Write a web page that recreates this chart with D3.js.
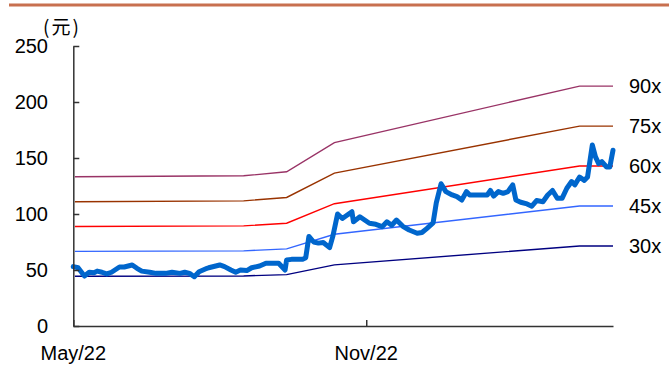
<!DOCTYPE html>
<html>
<head>
<meta charset="utf-8">
<script src="https://cdn.jsdelivr.net/npm/d3@7"></script>
<style>
  body { margin: 0; background: #fff; }
  text { font-family: "Liberation Sans", Arial, sans-serif; fill: #000; }
</style>
</head>
<body>
<script>
let w = 669;
let h = 365;

// price series (date, close)
let priceDates = ["2022-05-01","2022-05-04","2022-05-08","2022-05-11","2022-05-14","2022-05-16","2022-05-19","2022-05-22","2022-05-25","2022-05-30",
  "2022-06-02","2022-06-07","2022-06-10","2022-06-13","2022-06-18","2022-06-22","2022-06-28","2022-07-02","2022-07-07","2022-07-10",
  "2022-07-13","2022-07-16","2022-07-19","2022-07-24","2022-07-25","2022-08-01","2022-08-04","2022-08-08","2022-08-11","2022-08-14",
  "2022-08-18","2022-08-21","2022-08-26","2022-08-30","2022-09-03","2022-09-07","2022-09-11","2022-09-12","2022-09-15","2022-09-22",
  "2022-09-24","2022-09-26","2022-09-29","2022-10-02","2022-10-05","2022-10-09","2022-10-11","2022-10-14","2022-10-17","2022-10-23",
  "2022-10-24","2022-10-28","2022-10-31","2022-11-03","2022-11-07","2022-11-11","2022-11-14","2022-11-17","2022-11-20","2022-11-24",
  "2022-11-28","2022-12-03","2022-12-06","2022-12-09","2022-12-13","2022-12-15","2022-12-18","2022-12-21","2022-12-25","2022-12-28",
  "2022-12-31","2023-01-03","2023-01-05","2023-01-10","2023-01-16","2023-01-18","2023-01-20","2023-01-23","2023-01-26","2023-01-29",
  "2023-02-01","2023-02-03","2023-02-06","2023-02-10","2023-02-13","2023-02-16","2023-02-20","2023-02-23","2023-02-26","2023-03-01",
  "2023-03-04","2023-03-07","2023-03-10","2023-03-12","2023-03-15","2023-03-18","2023-03-20","2023-03-23","2023-03-25","2023-03-27",
  "2023-03-29","2023-04-01","2023-04-03","2023-04-05"];
let priceValues = [53,52,44.6,48,47.5,49,48,46.5,48,52.7,
  52.7,54.5,51.5,49,48,47,47,48,47,48,
  47,44,48.5,51.5,52,54.5,53,50,48,50,
  49.5,52,53.6,56,56,56,50,59,59.5,59.5,
  61,80,75,74,74.5,70,80,100,96,102,
  93,97.5,94.6,91.7,90.8,88.7,93,90,94.6,89,
  85.7,82.8,83.5,87,92,110,127,120,117,115.5,
  112.5,120,117,117,117,121,116,120,118.5,120,
  126,112.5,110.5,109,107,112,111,117,121,114,
  114,123,129,126,133,130,133,161.6,151,145,
  146.7,142,142,157];

// EPS used for the PE bands
let epsDates = ["2022-05-02","2022-08-16","2022-09-12","2022-10-12","2023-03-15","2023-04-05"];
let epsValues = [1.48, 1.49, 1.53, 1.82, 2.38, 2.38];

let peMultiples = [30, 45, 60, 75, 90];
let peLabels = ["30x", "45x", "60x", "75x", "90x"];
let peColors = ["#000080", "#3366FF", "#FF0000", "#993300", "#993366"];

let yTicks = [0, 50, 100, 150, 200, 250];
let xTickDates = ["2022-05-01", "2022-11-01"];
let xTickLabels = ["May/22", "Nov/22"];

let parse = d3.timeParse("%Y-%m-%d");

let x = d3.scaleTime()
  .domain([parse("2022-05-01"), parse("2023-04-05")])
  .range([73.3, 613]);
let y = d3.scaleLinear().domain([0, 250]).range([326, 46]);

let svg = d3.select("body").append("svg").attr("width", w).attr("height", h);

// top rule
svg.append("line")
  .attr("x1", 9).attr("x2", w).attr("y1", 5).attr("y2", 5)
  .attr("stroke", "#C8704F").attr("stroke-width", 3);

// unit label
svg.append("text")
  .attr("x", 62).attr("y", 34)
  .attr("text-anchor", "middle")
  .style("font-family", "'Noto Sans CJK SC', sans-serif")
  .style("font-size", "19px")
  .style("letter-spacing", "2px")
  .text("(元)");

// PE band lines
let line = d3.line().x((d) => x(d.date)).y((d) => y(d.value));
peMultiples.forEach((m, i) => {
  let pts = epsDates.map((d, j) => ({ date: parse(d), value: epsValues[j] * m }));
  svg.append("path")
    .attr("d", line(pts))
    .attr("fill", "none")
    .attr("stroke", peColors[i])
    .attr("stroke-width", 1.4);
  let last = pts[pts.length - 1];
  svg.append("text")
    .attr("x", 629).attr("y", y(last.value))
    .attr("dy", "0.35em")
    .style("font-size", "20px")
    .text(peLabels[i]);
});

// price
let prices = priceDates.map((d, i) => ({ date: parse(d), value: priceValues[i] }));
svg.append("path")
  .attr("d", line(prices))
  .attr("fill", "none")
  .attr("stroke", "#0066CC")
  .attr("stroke-width", 5)
  .attr("stroke-linejoin", "round")
  .attr("stroke-linecap", "round");

// y axis
let yAxis = d3.axisRight(y).tickValues(yTicks).tickSize(6).tickSizeOuter(0).tickFormat("");
let gy = svg.append("g").attr("transform", "translate(73.3,0)").call(yAxis);
gy.select(".domain").attr("stroke", "#333").attr("stroke-width", 1.5);
gy.selectAll(".tick line").attr("stroke", "#333").attr("stroke-width", 1.5);
yTicks.forEach((t) => {
  svg.append("text")
    .attr("x", 48).attr("y", y(t))
    .attr("dy", "0.35em")
    .attr("text-anchor", "end")
    .style("font-size", "20px")
    .text(t);
});

// x axis
let xAxis = d3.axisTop(x).tickValues(xTickDates.map(parse)).tickSize(6).tickSizeOuter(0).tickFormat("");
let gx = svg.append("g").attr("transform", "translate(0,326)").call(xAxis);
gx.select(".domain").attr("stroke", "#333").attr("stroke-width", 1.5);
gx.selectAll(".tick line").attr("stroke", "#333").attr("stroke-width", 1.5);
xTickDates.forEach((d, i) => {
  svg.append("text")
    .attr("x", x(parse(d))).attr("y", 360)
    .attr("text-anchor", "middle")
    .style("font-size", "20px")
    .text(xTickLabels[i]);
});
</script>
</body>
</html>
